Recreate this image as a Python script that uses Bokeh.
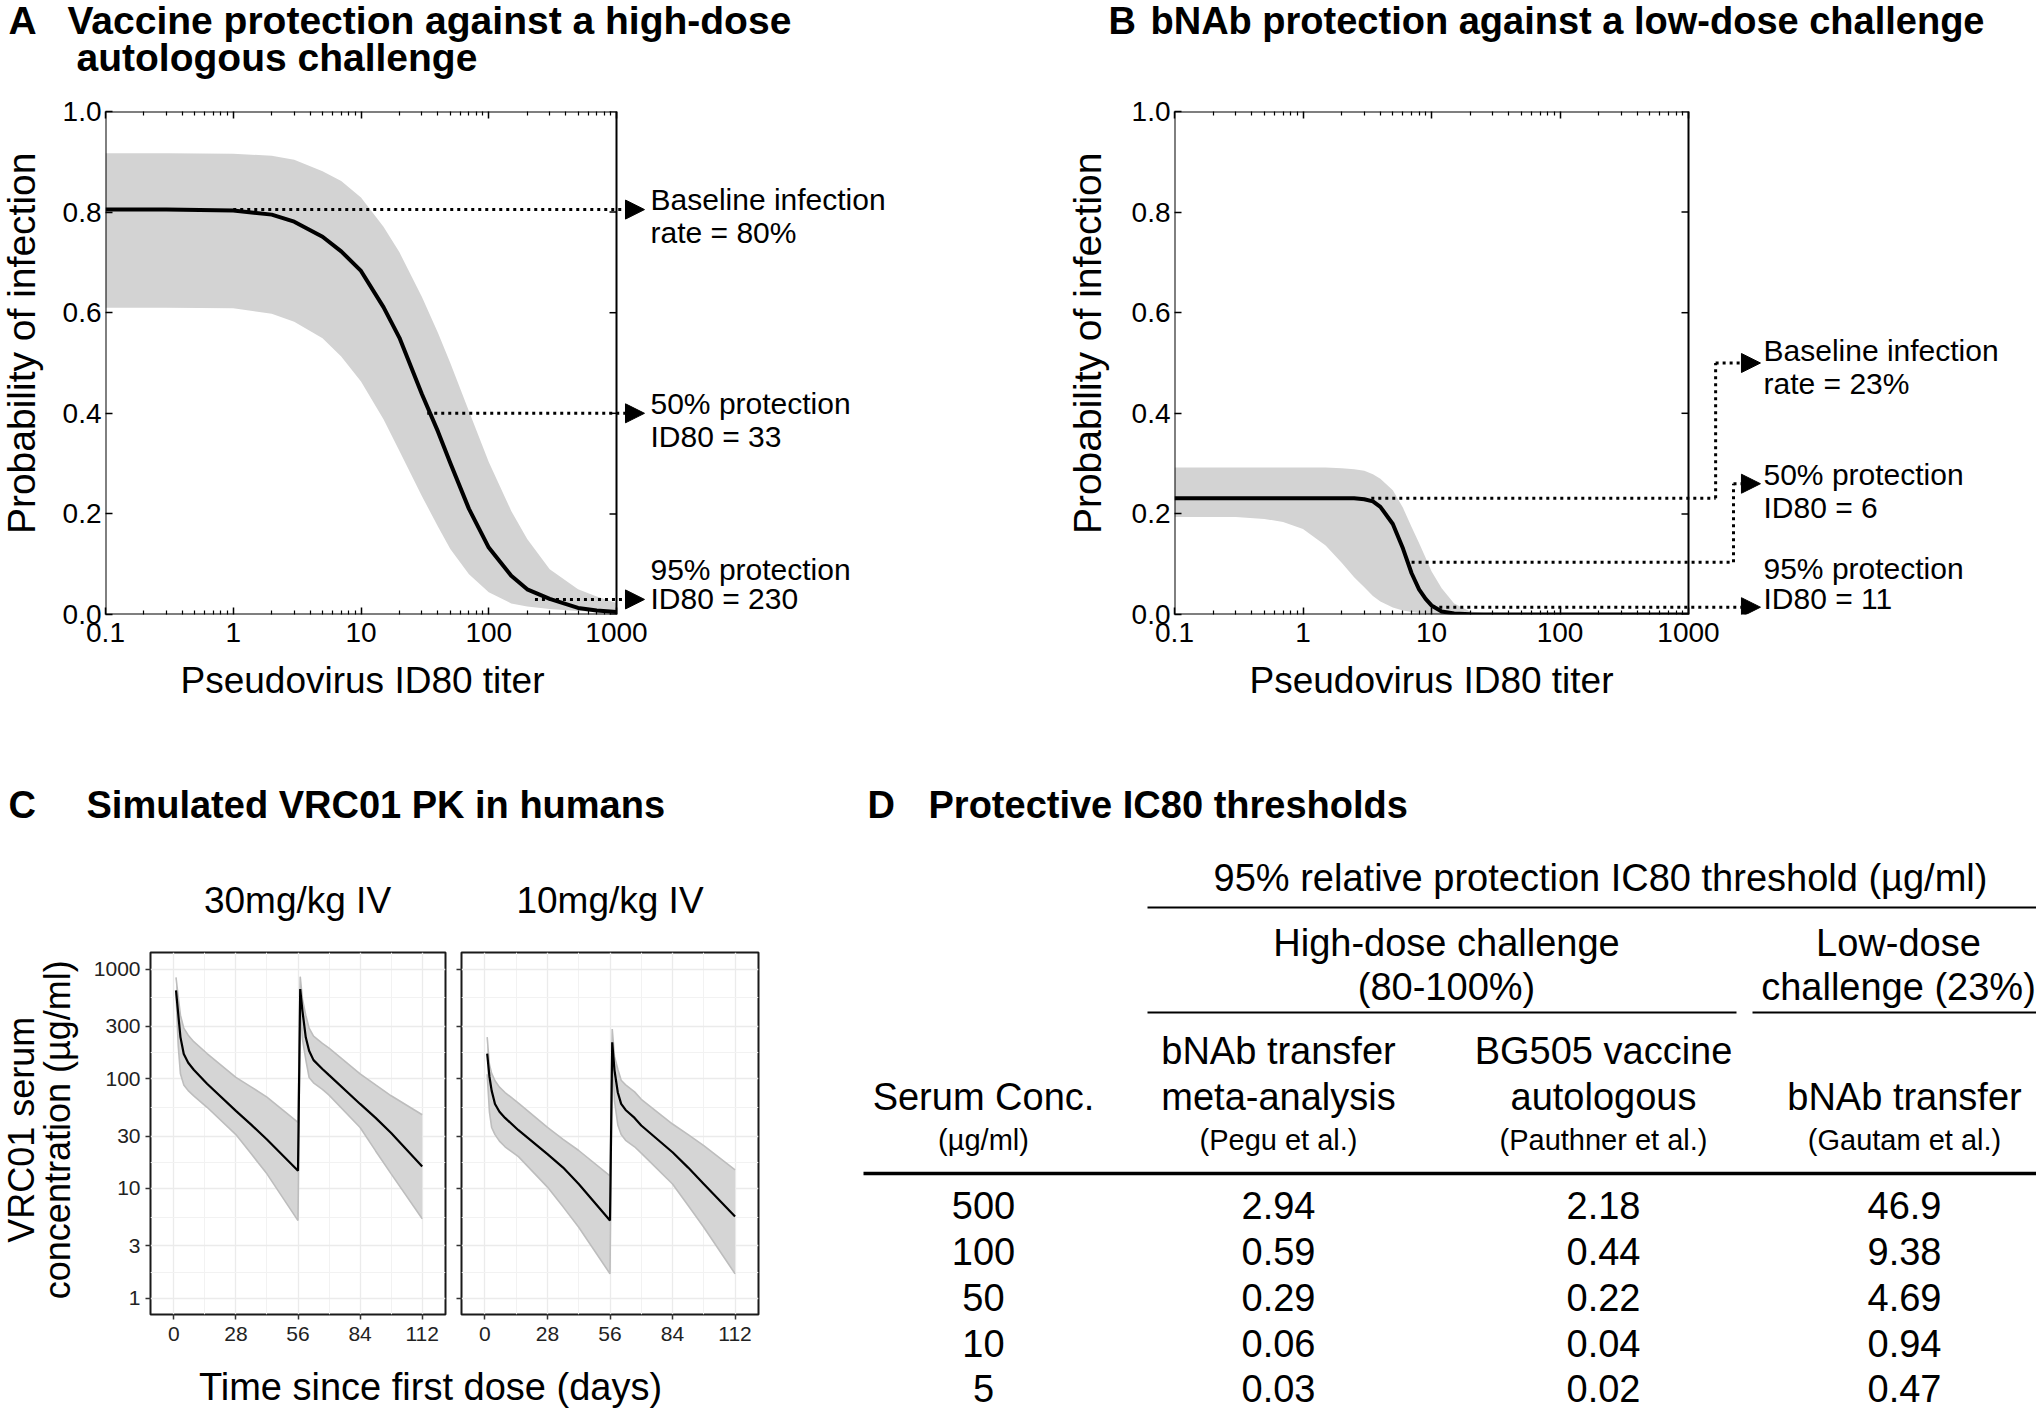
import math
from bokeh.plotting import figure
from bokeh.layouts import row, column
from bokeh.models import (FixedTicker, NumeralTickFormatter, LogAxis,
                          Arrow, NormalHead, Label, Range1d)
from bokeh.core.properties import value
from bokeh.embed import file_html
from bokeh.resources import INLINE

FONT = "Liberation Sans"

# ---------------- data: panel A (vaccine, high-dose challenge) ----------------
A_titer = [0.1, 0.3, 1, 2, 3, 5, 7, 10, 15, 20, 30, 40, 50, 70, 100, 150, 200, 300, 500, 700, 1000]
A_prob = [0.805, 0.805, 0.803, 0.795, 0.781, 0.751, 0.722, 0.683, 0.611, 0.55, 0.438, 0.364,
          0.301, 0.21, 0.133, 0.077, 0.05, 0.031, 0.013, 0.008, 0.005]
A_upper = [0.917, 0.917, 0.916, 0.912, 0.904, 0.881, 0.862, 0.829, 0.771, 0.72, 0.631, 0.56,
           0.5, 0.404, 0.303, 0.206, 0.15, 0.09, 0.05, 0.036, 0.023]
A_lower = [0.61, 0.61, 0.609, 0.598, 0.582, 0.549, 0.513, 0.463, 0.388, 0.325, 0.235, 0.175,
           0.13, 0.08, 0.044, 0.022, 0.016, 0.011, 0.007, 0.005, 0.003]
A_ref_levels = [0.805, 0.40, 0.03]
A_ref_from = [1, 33, 230]
A_ref_text = [["Baseline infection", "rate = 80%"], ["50% protection", "ID80 = 33"],
              ["95% protection", "ID80 = 230"]]

# ---------------- data: panel B (bNAb, low-dose challenge) ----------------
B_titer = [0.1, 0.3, 0.5, 0.7, 1, 1.5, 2, 2.5, 3, 3.5, 4, 5, 6, 7, 8, 9, 10, 12, 15, 20, 30, 100, 1000]
B_prob = [0.231, 0.231, 0.231, 0.231, 0.231, 0.231, 0.231, 0.231, 0.229, 0.225, 0.214, 0.18,
          0.131, 0.082, 0.05, 0.031, 0.018, 0.006, 0.002, 0.0005, 0, 0, 0]
B_upper = [0.292, 0.292, 0.292, 0.292, 0.292, 0.292, 0.291, 0.289, 0.286, 0.279, 0.27, 0.247,
           0.212, 0.174, 0.142, 0.113, 0.086, 0.052, 0.022, 0.006, 0.001, 0, 0]
B_lower = [0.194, 0.194, 0.19, 0.184, 0.17, 0.137, 0.103, 0.074, 0.054, 0.037, 0.026, 0.014,
           0.008, 0.005, 0.003, 0.002, 0.001, 0, 0, 0, 0, 0, 0]
B_ref_levels = [0.231, 0.104, 0.0145]
B_ref_from = [3.4, 7, 11.5]
B_ref_turn_x = [1626, 2240, None]
B_ref_turn_y = [0.50, 0.26, None]
B_ref_text = [["Baseline infection", "rate = 23%"], ["50% protection", "ID80 = 6"],
              ["95% protection", "ID80 = 11"]]

X_TICKS = [0.1, 1, 10, 100, 1000]
Y_TICKS = [0.0, 0.2, 0.4, 0.6, 0.8, 1.0]
AXIS_TITLE_AB = ["Pseudovirus ID80 titer", "Probability of infection"]

# ---------------- data: panel C (VRC01 PK) ----------------
PK_days = [1, 2, 3, 4.5, 6.5, 9, 15, 28, 35, 42, 56, 57, 58, 59.5, 61, 63, 67, 70, 84, 91, 98, 112]
PK30_median = [640, 390, 240, 168, 140, 121, 90, 51, 38, 28, 14.5, 658, 417, 239, 180, 148, 123, 108, 59, 44, 32, 15.9]
PK30_upper = [840, 560, 380, 290, 250, 218, 170, 103, 84, 68, 40, 853, 533, 380, 290, 245, 210, 190, 111, 88, 70, 47]
PK30_lower = [600, 200, 111, 88, 78, 70, 55, 31, 20.6, 13.6, 5.1, 448, 230, 150, 103, 92, 80, 71, 36, 22, 13.6, 5.3]
PK10_median = [170, 105, 78, 59, 50, 44, 34, 20.6, 15.5, 11.0, 5.1, 215, 120, 75, 59, 52, 44, 37.5, 21.4, 15.5, 11.0, 5.55]
PK10_upper = [240, 135, 112, 96, 84, 75, 60, 36, 28, 22.2, 13, 284, 160, 122, 97, 88, 76, 65, 38.7, 31, 24.6, 14.8]
PK10_lower = [110, 50, 36, 31, 27, 24, 19.5, 10.3, 6.8, 4.43, 1.67, 180, 63, 38, 31, 27.5, 24, 21, 11, 7, 4.43, 1.67]
PK_facets = ["30mg/kg IV", "10mg/kg IV"]
PK_day_ticks = [0, 28, 56, 84, 112]
PK_conc_ticks = [1, 3, 10, 30, 100, 300, 1000]

# ---------------- data: panel D (table) ----------------
serum_conc = [500, 100, 50, 10, 5]
ic80_pegu = [2.94, 0.59, 0.29, 0.06, 0.03]
ic80_pauthner = [2.18, 0.44, 0.22, 0.04, 0.02]
ic80_gautam = [46.9, 9.38, 4.69, 0.94, 0.47]

PAGE_W = 2036


# ---------------- helpers ----------------
def add_label(p, frame, px, py, text, size):
    """Left-aligned text whose vertical centre sits at page y = py."""
    fl, ft, fw, fh = frame
    p.add_layout(Label(x=px - fl, y=(ft + fh) - py, x_units="screen", y_units="screen", text=text,
                       text_font=FONT, text_font_size=f"{size}px", text_align="left",
                       text_baseline="middle", text_color="black"))


def text_fig(x0, x1, y0, y1):
    p = figure(width=x1 - x0, height=y1 - y0, x_range=Range1d(x0, x1), y_range=Range1d(y1, y0),
               min_border=0, x_axis_location=None, y_axis_location=None, title_location=None,
               output_backend="svg", toolbar_location=None)
    p.grid.visible = False
    p.outline_line_color = None
    return p


def put_text(p, xs, ys, texts, size, bold=False, align="center", angle=0.0):
    p.text(x=xs, y=ys, text=texts, text_font=value(FONT), text_font_size=value(f"{size}px"),
           text_font_style=value("bold" if bold else "normal"), text_align=value(align),
           text_baseline=value("middle"), angle=angle, text_color="black")


def style_inner_axis(ax, show_labels, standoff):
    ax.axis_line_color = None
    ax.major_tick_in = 7
    ax.major_tick_out = 0
    ax.minor_tick_in = 4
    ax.minor_tick_out = 0
    ax.major_tick_line_color = "black"
    ax.major_tick_line_width = 1.5
    ax.minor_tick_line_color = "black"
    ax.minor_tick_line_width = 1.2
    ax.major_label_text_font = FONT
    ax.major_label_text_color = "black"
    ax.major_label_text_font_size = "28px"
    ax.major_label_standoff = standoff
    if not show_labels:
        ax.major_label_text_font_size = "1px"
        ax.major_label_text_alpha = 0.0
        ax.major_label_standoff = 0


ROW1_Y0, ROW1_H, FR_T, FR_B = 85, 575, 111, 614


def prob_panel(fig_x0, fig_x1, box_l, box_r, titer, prob, lo, hi):
    """Frame spans from the plot box's left edge to the figure's right edge, so the
    reference annotations on the right can live inside the frame."""
    decade_px = (box_r - box_l) / 4.0
    x_end = 10 ** (-1 + (fig_x1 - box_l) / decade_px)
    p = figure(width=fig_x1 - fig_x0, height=ROW1_H, x_axis_type="log",
               x_range=Range1d(0.1, x_end), y_range=Range1d(0, 1),
               min_border_left=box_l - fig_x0, min_border_right=0,
               min_border_top=FR_T - ROW1_Y0, min_border_bottom=ROW1_Y0 + ROW1_H - FR_B,
               output_backend="svg", toolbar_location=None, title_location=None)
    p.varea(x=titer, y1=lo, y2=hi, fill_color="#d3d3d3")
    p.line(titer, prob, line_color="black", line_width=4, line_join="round")
    minor = [k * 10 ** e for e in range(-1, 3) for k in range(2, 10)]
    xt = FixedTicker(ticks=X_TICKS, minor_ticks=minor)
    yt = FixedTicker(ticks=Y_TICKS)
    p.xaxis.ticker = xt
    p.xaxis.formatter = NumeralTickFormatter(format="0.[0]")
    p.yaxis.ticker = yt
    p.yaxis.formatter = NumeralTickFormatter(format="0.0")
    style_inner_axis(p.xaxis[0], True, 8)
    style_inner_axis(p.yaxis[0], True, 4)
    top_ax = LogAxis(ticker=xt)
    style_inner_axis(top_ax, False, 0)
    p.add_layout(top_ax, "above")
    # plot box and right-hand inner ticks
    p.quad(left=[X_TICKS[0]], right=[X_TICKS[-1]], bottom=[Y_TICKS[0]], top=[Y_TICKS[-1]],
           fill_color=None, line_color="black", line_width=2)
    inward = X_TICKS[-1] * 10 ** (-7.0 / decade_px)
    p.segment(x0=[X_TICKS[-1]] * len(Y_TICKS), y0=Y_TICKS, x1=[inward] * len(Y_TICKS), y1=Y_TICKS,
              line_color="black", line_width=1.5)
    p.grid.visible = False
    p.outline_line_color = None
    frame = (box_l, FR_T, fig_x1 - box_l, FR_B - FR_T)
    return p, frame


def head():
    return NormalHead(size=19, fill_color="black", line_color="black", line_width=1)


DOT = dict(line_color="black", line_width=3, line_dash="3 4")

# ---------------- row T: panel titles ----------------
pT = text_fig(0, PAGE_W, 0, ROW1_Y0)
put_text(pT, [8], [20], ["A"], 39, bold=True, align="left")
put_text(pT, [67, 76], [20, 57],
         ["Vaccine protection against a high-dose", "autologous challenge"], 39, bold=True,
         align="left")
put_text(pT, [1108, 1150], [20, 20], ["B", "bNAb protection against a low-dose challenge"], 38,
         bold=True, align="left")

# ---------------- row 1: panels A and B ----------------
pAy = text_fig(0, 45, ROW1_Y0, ROW1_Y0 + ROW1_H)
put_text(pAy, [21], [350], [AXIS_TITLE_AB[1]], 39, angle=math.pi / 2)

pA, frA = prob_panel(45, 1040, 105, 616, A_titer, A_prob, A_lower, A_upper)
A_tip = 1656
for lvl, x0 in zip(A_ref_levels, A_ref_from):
    pA.add_layout(Arrow(x_start=x0, y_start=lvl, x_end=A_tip, y_end=lvl, end=head(), **DOT))
A_text_y = [(199, 232), (403, 436), (569, 598)]
for (l1, l2), (y1, y2) in zip(A_ref_text, A_text_y):
    add_label(pA, frA, 650, y1, l1, 30)
    add_label(pA, frA, 650, y2, l2, 30)

pBy = text_fig(1040, 1110, ROW1_Y0, ROW1_Y0 + ROW1_H)
put_text(pBy, [1087], [350], [AXIS_TITLE_AB[1]], 39, angle=math.pi / 2)

pB, frB = prob_panel(1110, PAGE_W, 1174, 1688, B_titer, B_prob, B_lower, B_upper)
B_tip = 3631
for lvl, x0, tx, ty in zip(B_ref_levels, B_ref_from, B_ref_turn_x, B_ref_turn_y):
    if tx is None:
        pB.add_layout(Arrow(x_start=x0, y_start=lvl, x_end=B_tip, y_end=lvl, end=head(), **DOT))
    else:
        pB.add_layout(Arrow(x_start=x0, y_start=lvl, x_end=tx, y_end=lvl, end=None, **DOT))
        pB.add_layout(Arrow(x_start=tx, y_start=lvl, x_end=tx, y_end=ty, end=None, **DOT))
        pB.add_layout(Arrow(x_start=tx, y_start=ty, x_end=B_tip, y_end=ty, end=head(), **DOT))
B_text_y = [(350, 383), (474, 507), (568, 598)]
for (l1, l2), (y1, y2) in zip(B_ref_text, B_text_y):
    add_label(pB, frB, 1763, y1, l1, 30)
    add_label(pB, frB, 1763, y2, l2, 30)

# ---------------- row M: axis titles, C/D titles, facet strips, table header ----------------
M_Y0, M_Y1 = 660, 922
pM = text_fig(0, PAGE_W, M_Y0, M_Y1)
put_text(pM, [362, 1431], [680, 680], [AXIS_TITLE_AB[0], AXIS_TITLE_AB[0]], 37)
put_text(pM, [8, 867], [804, 804], ["C", "D"], 38, bold=True, align="left")
put_text(pM, [86, 928], [804, 804], ["Simulated VRC01 PK in humans", "Protective IC80 thresholds"],
         38, bold=True, align="left")
put_text(pM, [297, 609.5], [900, 900], PK_facets, 37)
put_text(pM, [1600], [877], ["95% relative protection IC80 threshold (\u00b5g/ml)"], 38)
pM.segment(x0=[1147], y0=[907], x1=[PAGE_W], y1=[907], line_color="black", line_width=2)

# ---------------- row 3: panel C and table D ----------------
C_Y0, C_Y1, C_FT, C_FB = M_Y1, 1355, 952, 1314


def pk_panel(fig_x0, fig_x1, fr_l, fr_r, days, med, lo, hi, show_ylabels):
    p = figure(width=fig_x1 - fig_x0, height=C_Y1 - C_Y0, y_axis_type="log",
               x_range=Range1d(-10.5, 122.5), y_range=Range1d(0.71, 1417),
               min_border_left=fr_l - fig_x0, min_border_right=fig_x1 - fr_r,
               min_border_top=C_FT - C_Y0, min_border_bottom=C_Y1 - C_FB,
               output_backend="svg", toolbar_location=None, title_location=None)
    minor_y = [math.sqrt(a * b) for a, b in zip(PK_conc_ticks[:-1], PK_conc_ticks[1:])]
    minor_x = [(a + b) / 2 for a, b in zip(PK_day_ticks[:-1], PK_day_ticks[1:])]
    xt = FixedTicker(ticks=PK_day_ticks, minor_ticks=minor_x)
    yt = FixedTicker(ticks=PK_conc_ticks, minor_ticks=minor_y)
    p.xaxis.ticker = xt
    p.yaxis.ticker = yt
    p.yaxis.formatter = NumeralTickFormatter(format="0")
    for ax in (p.xaxis[0], p.yaxis[0]):
        ax.axis_line_color = None
        ax.major_tick_in = 0
        ax.major_tick_out = 5
        ax.major_tick_line_color = "#333333"
        ax.major_tick_line_width = 1.5
        ax.minor_tick_line_color = None
        ax.major_label_text_font = FONT
        ax.major_label_text_color = "#222222"
        ax.major_label_text_font_size = "21px"
    p.xaxis.major_label_standoff = 7
    p.yaxis.major_label_standoff = 5
    if not show_ylabels:
        p.yaxis.major_label_text_font_size = "1px"
        p.yaxis.major_label_text_alpha = 0.0
        p.yaxis.major_label_standoff = 0
    p.xgrid.ticker = xt
    p.ygrid.ticker = yt
    for g in (p.xgrid[0], p.ygrid[0]):
        g.grid_line_color = "#ebebeb"
        g.grid_line_width = 1.3
        g.minor_grid_line_color = "#f2f2f2"
        g.minor_grid_line_width = 1
    p.varea(x=days, y1=lo, y2=hi, fill_color="#d5d5d5")
    p.line(days, hi, line_color="#bdbdbd", line_width=1.6)
    p.line(days, lo, line_color="#bdbdbd", line_width=1.6)
    p.line(days, med, line_color="black", line_width=2.2)
    p.outline_line_color = "#1a1a1a"
    p.outline_line_width = 2
    return p


pCy = text_fig(0, 90, C_Y0, C_Y1)
put_text(pCy, [21, 57], [1134, 1134], ["VRC01 serum", "concentration (\u00b5g/ml)"], 36,
         angle=math.pi / 2)
pC1 = pk_panel(90, 453, 149, 445, PK_days, PK30_median, PK30_lower, PK30_upper, True)
pC2 = pk_panel(453, 800, 461, 758, PK_days, PK10_median, PK10_lower, PK10_upper, False)

BOTTOM = 1410
pCx = text_fig(0, 800, C_Y1, BOTTOM)
put_text(pCx, [430], [1386], ["Time since first dose (days)"], 38)

pD = text_fig(800, PAGE_W, C_Y0, BOTTOM)
col_x = [983, 1278, 1603, 1904]
grp_hd_x, grp_ld_x = 1446, 1898
put_text(pD, [grp_hd_x, grp_hd_x, grp_ld_x, grp_ld_x], [942, 986, 942, 986],
         ["High-dose challenge", "(80-100%)", "Low-dose", "challenge (23%)"], 38)
put_text(pD, [col_x[1], col_x[1], col_x[2], col_x[2]], [1050, 1096, 1050, 1096],
         ["bNAb transfer", "meta-analysis", "BG505 vaccine", "autologous"], 38)
put_text(pD, [col_x[0], col_x[3]], [1096, 1096], ["Serum Conc.", "bNAb transfer"], 38)
put_text(pD, col_x, [1139] * 4,
         ["(\u00b5g/ml)", "(Pegu et al.)", "(Pauthner et al.)", "(Gautam et al.)"], 29)
pD.segment(x0=[1147, 1752], y0=[1012, 1012], x1=[1736, PAGE_W], y1=[1012, 1012],
           line_color="black", line_width=2)
pD.segment(x0=[863], y0=[1173], x1=[PAGE_W], y1=[1173], line_color="black", line_width=3.5)

row_y = [1205, 1251, 1297, 1343, 1388]
for cx, vals in zip(col_x, [serum_conc, ic80_pegu, ic80_pauthner, ic80_gautam]):
    put_text(pD, [cx] * len(vals), row_y, ["{:g}".format(v) for v in vals], 38)

# ---------------- layout ----------------
row1 = row(pAy, pA, pBy, pB)
left3 = column(row(pCy, pC1, pC2), pCx)
row3 = row(left3, pD)
root = column(pT, row1, pM, row3)

open("out.html", "w").write(file_html(root, INLINE))
